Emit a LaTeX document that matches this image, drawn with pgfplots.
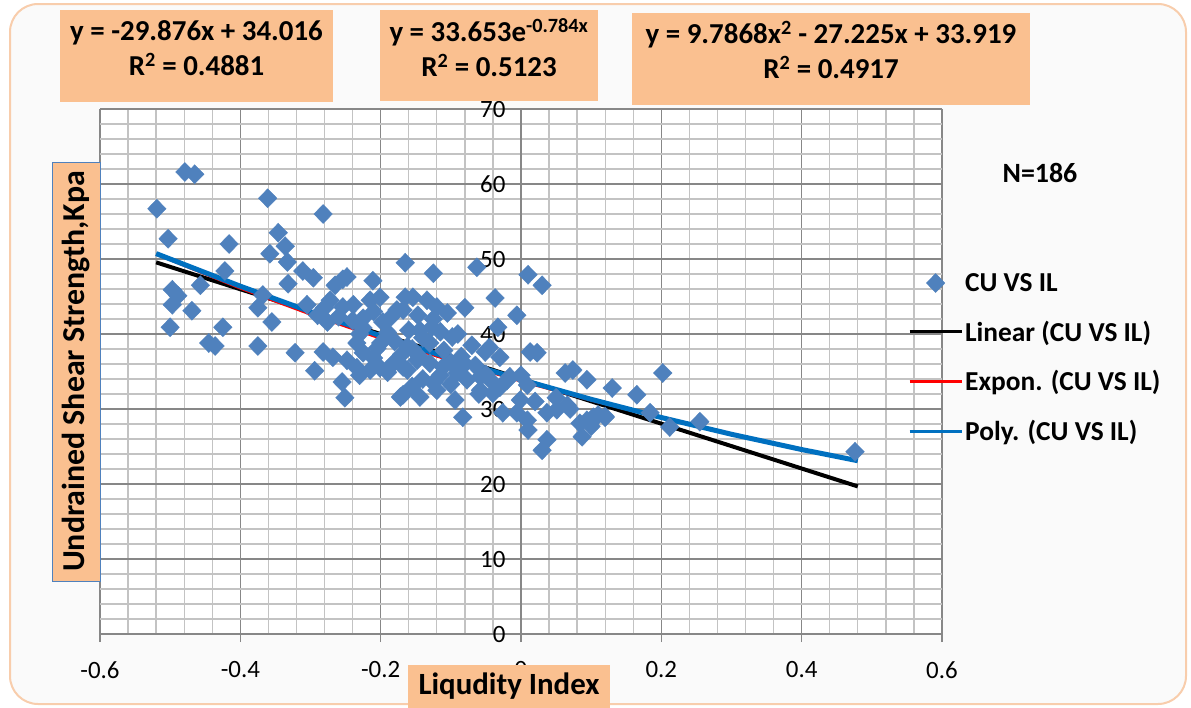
\documentclass[border=0pt]{standalone}
\usepackage{fontspec}
\setmainfont{Carlito}
\usepackage{pgfplots}
\pgfplotsset{compat=1.18}
\definecolor{boxor}{HTML}{FAC090}
\definecolor{mblue}{HTML}{4F81BD}
\definecolor{pblue}{HTML}{0070C0}
\definecolor{gmaj}{HTML}{878787}
\definecolor{gmin}{HTML}{C3C3C3}
\definecolor{frameor}{HTML}{F2A468}
\pgfplotsset{
  linelegend/.style={legend image code/.code={\draw[##1, line width=3bp] (0bp,0bp) -- (52bp,0bp);}},
  marklegend/.style={legend image code/.code={\draw[##1] plot coordinates {(26bp,0bp)};}},
}
\pgfplotstableread{
x y
-0.479 61.6
-0.465 61.3
-0.519 56.7
-0.361 58.1
-0.282 56.0
-0.503 52.7
-0.416 52.0
-0.346 53.5
-0.336 51.7
-0.358 50.7
-0.333 49.6
-0.311 48.4
-0.296 47.5
-0.332 46.7
-0.422 48.4
-0.457 46.5
-0.497 45.9
-0.489 45.1
-0.497 43.9
-0.469 43.1
-0.500 40.9
-0.425 40.9
-0.445 38.8
-0.436 38.4
-0.375 38.4
-0.375 43.5
-0.368 45.2
-0.355 41.6
-0.322 37.5
-0.294 35.1
-0.165 49.5
-0.248 47.6
-0.265 46.5
-0.211 47.1
-0.254 47.3
-0.272 44.5
-0.305 43.9
-0.254 43.6
-0.239 43.9
-0.215 44.5
-0.201 44.9
-0.177 43.2
-0.225 42.1
-0.197 41.6
-0.276 41.6
-0.282 37.6
-0.268 36.9
-0.248 36.5
-0.234 38.8
-0.225 37.5
-0.205 38.1
-0.234 35.5
-0.215 35.2
-0.201 35.5
-0.182 36.1
-0.162 35.2
-0.255 33.6
-0.251 31.5
-0.172 31.6
-0.165 44.9
-0.162 38.3
-0.125 48.1
-0.063 48.9
0.010 47.9
0.030 46.5
-0.037 44.8
-0.080 43.5
-0.006 42.5
-0.033 40.9
-0.154 44.9
-0.134 44.5
-0.120 43.6
-0.105 42.8
-0.168 43.2
-0.147 42.5
-0.144 40.5
-0.127 40.9
-0.115 40.3
-0.098 39.6
-0.070 38.5
-0.051 37.6
-0.030 36.9
0.013 37.6
0.023 37.5
-0.016 34.3
0.009 33.2
-0.168 35.6
-0.148 36.5
-0.130 36.1
-0.111 35.6
-0.091 34.8
-0.077 33.9
-0.058 34.3
-0.040 33.5
-0.030 32.9
-0.168 31.9
-0.144 31.6
-0.120 32.5
-0.094 31.2
-0.083 28.9
-0.058 32.5
-0.040 32.1
-0.026 29.5
-0.006 29.5
-0.001 31.2
0.009 28.5
0.010 27.2
0.037 25.9
0.030 24.5
0.063 34.8
0.074 35.2
0.094 33.9
0.130 32.8
0.165 31.9
0.202 34.8
0.037 29.5
0.051 29.9
0.066 30.5
0.084 28.1
0.094 28.5
0.103 28.9
0.120 28.9
0.087 26.3
0.184 29.5
0.212 27.6
0.255 28.3
0.476 24.3
-0.230 40.0
-0.190 40.2
-0.180 39.0
-0.210 36.8
-0.190 34.9
-0.155 38.0
-0.140 34.0
-0.125 33.5
-0.110 37.8
-0.100 36.2
-0.085 37.0
-0.065 35.8
-0.050 34.6
-0.130 38.8
-0.115 34.5
-0.160 40.5
-0.145 37.0
-0.170 37.3
-0.200 38.8
-0.225 40.8
-0.240 41.8
-0.260 42.3
-0.290 42.5
-0.080 36.0
-0.060 32.0
-0.020 33.8
0.000 34.5
0.020 31.0
0.050 31.5
0.070 30.0
0.110 29.2
-0.140 39.5
-0.100 33.3
-0.185 42.3
-0.210 43.0
-0.125 42.0
-0.045 38.2
-0.280 43.5
-0.230 34.5
-0.090 40.0
-0.155 33.0
0.100 27.7
0.120 29.0
}\scatterdata
\begin{document}
\begin{tikzpicture}
\path[use as bounding box] (0bp,0bp) rectangle (1191bp,-708bp);
\draw[frameor!55!white, line width=2bp, rounded corners=28bp, fill=gray!4] (10bp,-4bp) rectangle (1186bp,-704bp);
\begin{axis}[
  at={(100bp,-634bp)}, anchor=south west,
  scale only axis, width=842bp, height=525bp,
  xmin=-0.6, xmax=0.6, ymin=0, ymax=70,
  xtick={-0.6,-0.4,-0.2,0,0.2,0.4,0.6},
  ytick={0,10,20,30,40,50,60,70},
  minor x tick num=4, minor y tick num=4,
  grid=both,
  major grid style={draw=gmaj, line width=1.3bp},
  minor grid style={draw=gmin, line width=1.3bp},
  axis x line*=bottom, axis y line*=middle,
  hide obscured x ticks=false, hide obscured y ticks=false,
  axis line style={draw=gmaj, line width=1.3bp},
  tick style={draw=gmaj, line width=1.3bp},
  major tick length=8bp, minor tick length=0bp,
  tick align=outside,
  axis background/.style={fill=white},
  /pgf/number format/assume math mode=true,
  /pgf/number format/fixed,
  ticklabel style={font=\fontsize{25}{28}\selectfont},
  xticklabel style={yshift=-16bp},
  yticklabel style={xshift=-4bp},
  legend style={at={(0.956,0.695)}, anchor=north west, draw=none, fill=none,
    font=\bfseries\fontsize{27.5}{30}\selectfont, row sep=24bp},
  legend cell align=left,
]
\addplot[only marks, mark=diamond*, mark size=9.5bp,
  mark options={draw=mblue, fill=mblue, xscale=1.3}, marklegend]
  table[x=x,y=y] {\scatterdata};
\addlegendentry{CU VS IL}
\addplot[black, line width=4bp, linelegend]
  coordinates {(-0.52,49.551) (0.48,19.676)};
\addlegendentry{Linear (CU VS IL)}
\addplot[red, line width=2bp, linelegend]
  coordinates {(-0.52,50.591) (-0.4,46.049) (-0.3,42.576) (-0.2,39.366) (-0.1,36.397) (0,33.653) (0.1,31.116) (0.2,28.769) (0.3,26.600) (0.4,24.594) (0.48,23.099)};
\addlegendentry{Expon. (CU VS IL)}
\addplot[pblue, line width=5bp, linelegend]
  coordinates {(-0.52,50.722) (-0.4,46.375) (-0.3,42.967) (-0.2,39.756) (-0.1,36.739) (0,33.919) (0.1,31.294) (0.2,28.866) (0.3,26.632) (0.4,24.595) (0.48,23.106)};
\addlegendentry{Poly. (CU VS IL)}
\end{axis}
\fill[boxor] (60bp,-10bp) rectangle (333bp,-102bp);
\node[align=center, inner sep=0pt, font=\bfseries\fontsize{29}{35}\selectfont] at (196.5bp,-48bp)
  {y = -29.876x + 34.016\\R\textsuperscript{2} = 0.4881};
\fill[boxor] (380bp,-10bp) rectangle (598bp,-101bp);
\node[align=center, inner sep=0pt, font=\bfseries\fontsize{29}{35}\selectfont] at (489bp,-48bp)
  {y = 33.653e\textsuperscript{-0.784x}\\R\textsuperscript{2} = 0.5123};
\fill[boxor] (632bp,-13bp) rectangle (1030bp,-105bp);
\node[align=center, inner sep=0pt, font=\bfseries\fontsize{29}{35}\selectfont] at (831bp,-50bp)
  {y = 9.7868x\textsuperscript{2} - 27.225x + 33.919\\R\textsuperscript{2} = 0.4917};
\node[fill=boxor, draw=mblue, line width=1bp, minimum width=419bp, minimum height=48bp, inner sep=0pt,
  rotate=90, font=\bfseries\fontsize{32}{34}\selectfont] at (76bp,-371.5bp)
  {Undrained Shear Strength,Kpa};
\node[fill=boxor, minimum width=202bp, minimum height=43bp, inner sep=0pt,
  font=\bfseries\fontsize{31}{34}\selectfont] at (509bp,-686.5bp) {Liqudity Index};
\node[font=\bfseries\fontsize{28}{32}\selectfont] at (1040bp,-173bp) {N=186};
\end{tikzpicture}
\end{document}
